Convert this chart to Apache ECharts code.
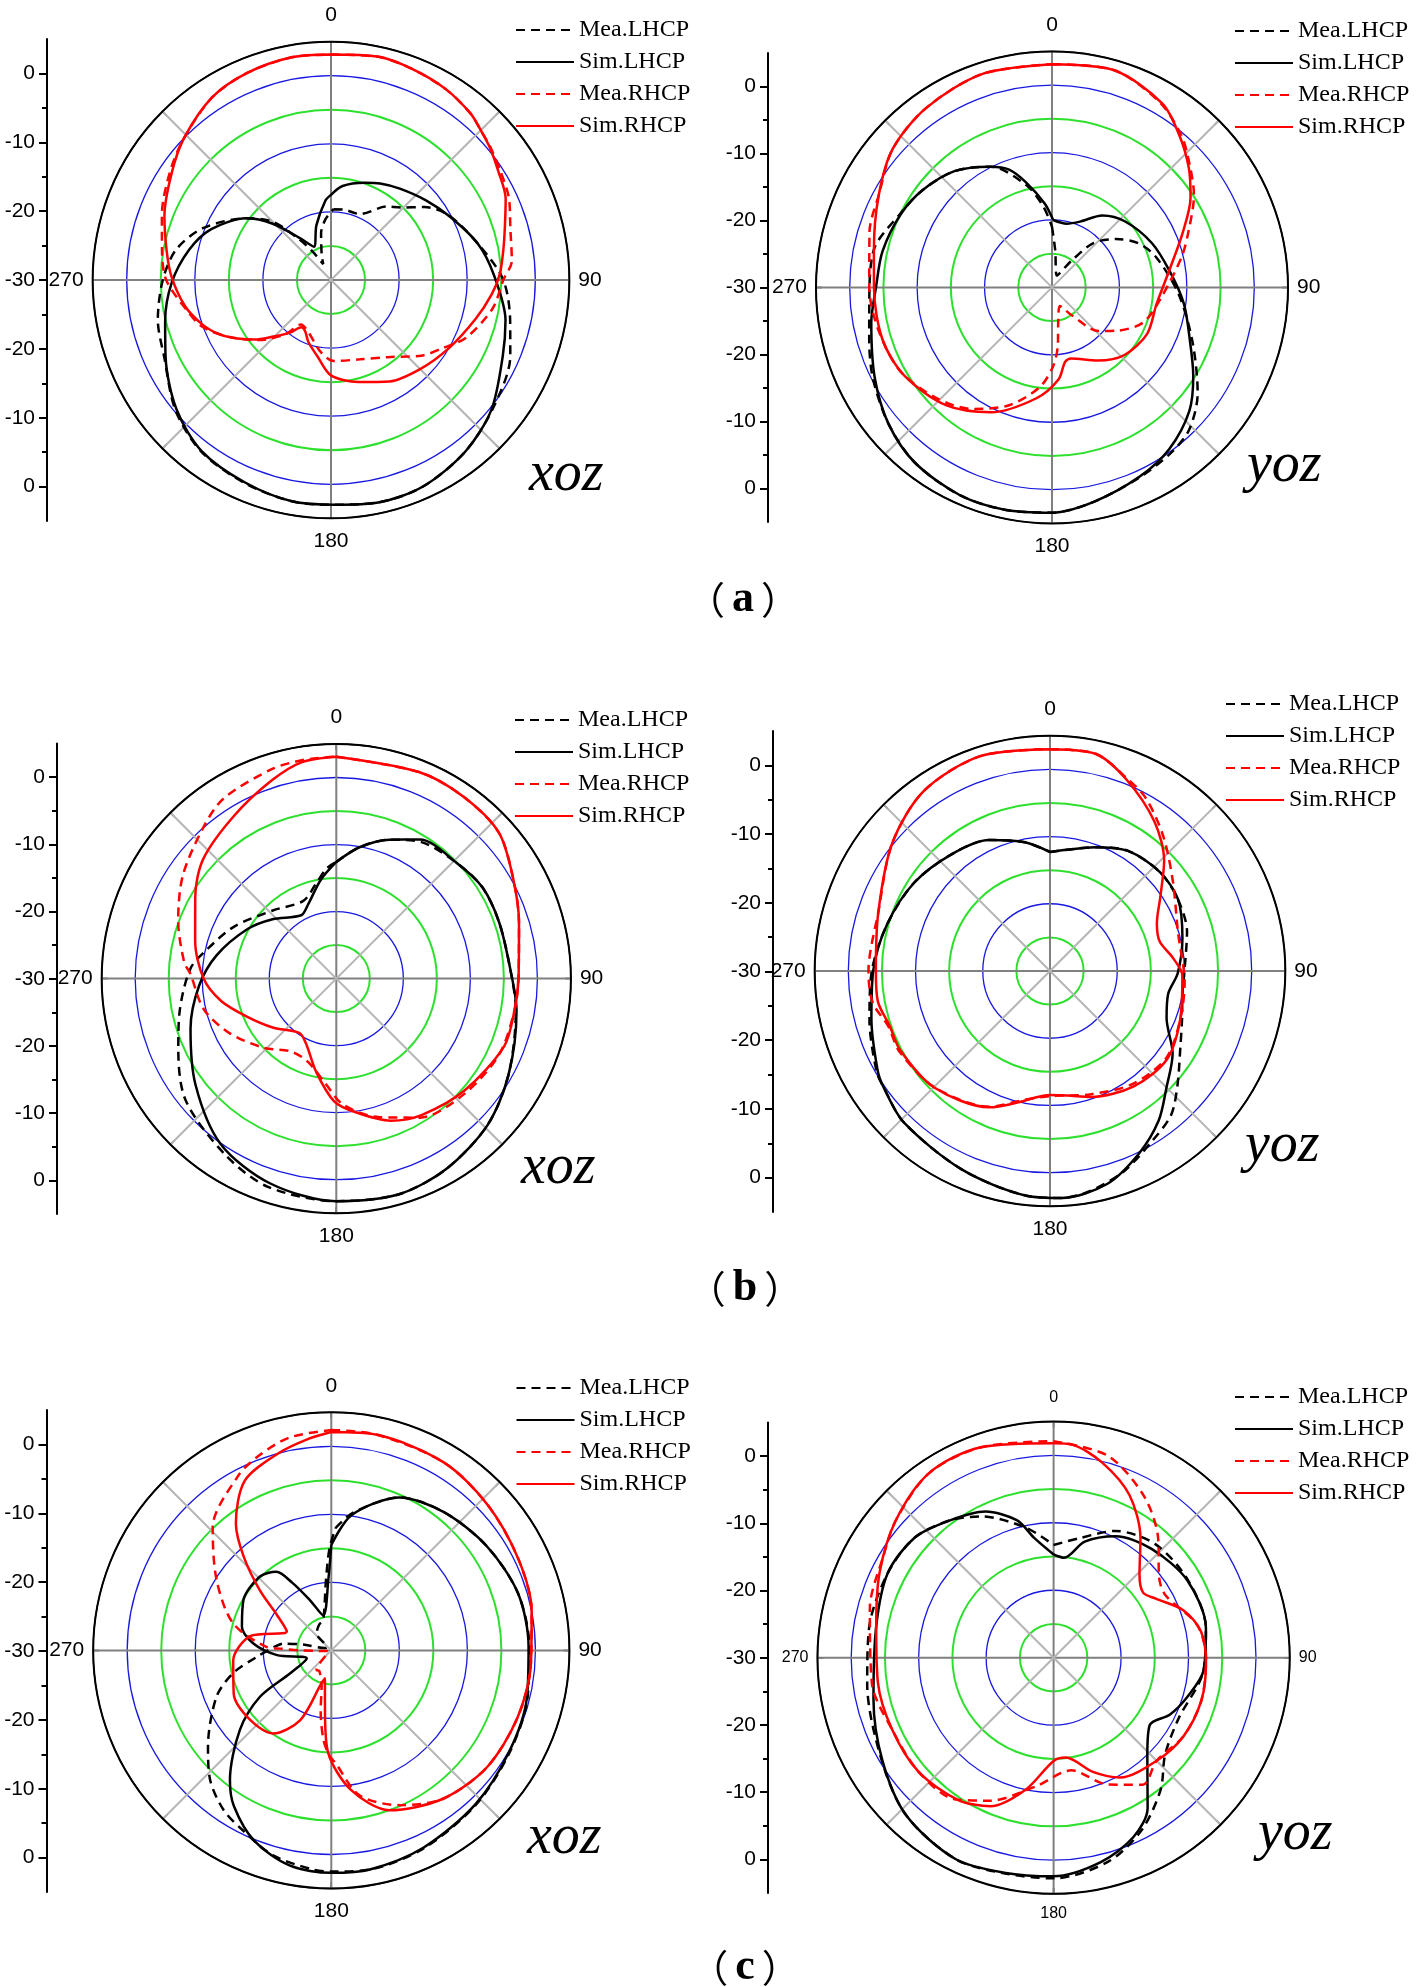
<!DOCTYPE html>
<html><head><meta charset="utf-8">
<script src="https://cdn.jsdelivr.net/npm/echarts@6/dist/echarts.min.js"></script>
<style>html,body{margin:0;padding:0;background:#fff}#c{width:1417px;height:1987px}</style>
</head><body><div id="c"></div>
<script>
// ---------- text / tick labels ----------
const seriesNames = ['Mea.LHCP', 'Sim.LHCP', 'Mea.RHCP', 'Sim.RHCP'];
const angleTickValues = [0, 90, 180, 270];
const angleTickLabels = ['0', '90', '180', '270'];
const radialTickValues = [30, 20, 10, 0, -10, -20, -30];
const radialTickLabels = ['0', '-10', '-20', '-30', '-20', '-10', '0'];
const radialMinorValues = [25, 15, 5, -5, -15, -25];
const panelTitles = ['xoz', 'yoz', 'xoz', 'yoz', 'xoz', 'yoz'];
const figureLetters = ['a', 'b', 'c'];

// ---------- data: [angle (deg), gain (dB)] ----------
const aXozMeaLHCP = [[2,-19.6],[10,-19.5],[24,-19.4],[37,-16.5],[44,-15.2],[52,-12.6],[61,-10.3],[77,-7.6],[90,-4.7],[103,-3],[113,-1.4],[128,0.3],[142,2],[156,3.2],[168,3.4],[180,3],[190,3],[203,2.4],[217,1.6],[230,-0.2],[245,-3],[257,-3.9],[270,-5.3],[281,-6.8],[292,-9.7],[306,-14.6],[315,-17.9],[322,-22.4],[327,-25],[334,-27.4],[340,-26],[348,-23],[355,-21]];
const aXozSimLHCP = [[0,-17.5],[7,-16.1],[19,-14.9],[27,-14.1],[37,-13.2],[50,-11.8],[62,-10.2],[76,-7.8],[88,-6.1],[103,-3.7],[114,-2.4],[129,0.3],[142,2],[156,3.2],[168,3.4],[179,3],[190,3],[203,2.3],[217,1.5],[230,-0.4],[245,-3.2],[256,-4.9],[269,-6.6],[282,-8.7],[293,-10.9],[306,-14.6],[314,-18.1],[323,-22.2],[333,-24.5],[345,-21.7],[356,-18.3]];
const aXozMeaRHCP = [[0,3.1],[12,3.5],[21,3.2],[31,2.7],[40,1.9],[45,1.1],[50,0.5],[57,-0.4],[65,-1.2],[74,-2.6],[84,-3.3],[90,-4.7],[100,-5.9],[113,-8.4],[121,-10.7],[130,-12.7],[144,-16],[160,-17.6],[178,-18.1],[188,-19.3],[204,-21.7],[214,-22.1],[220,-19.6],[230,-16.3],[241,-12.8],[250,-9.9],[258,-8.4],[270,-5.8],[280,-4.8],[291,-3.4],[304,-1.5],[314,0],[327,2],[338,2.8],[350,3.2]];
const aXozSimRHCP = [[0,3.1],[12,3.5],[21,3.2],[31,2.7],[40,1.9],[45,1.1],[50,0.4],[57,-0.7],[65,-1.7],[73,-3.3],[80,-4.3],[88,-5.2],[95,-6.3],[105,-8],[120,-10],[135,-11.5],[150,-12.8],[165,-14.5],[180,-16],[190,-18.6],[200,-20.3],[207,-21.6],[212,-21.8],[218,-20.2],[226,-18],[232,-15.8],[238,-13.8],[244,-11.8],[251,-10],[260,-8.2],[271,-6.6],[280,-5.5],[291,-3.8],[304,-1.8],[314,0],[327,2],[338,2.8],[350,3.2]];

const aYozMeaLHCP = [[0,-21],[5,-24.5],[22,-28.1],[36,-25.2],[43,-21],[53,-18.1],[63,-15.6],[74,-13.9],[93,-11.2],[111,-7.7],[126,-3.3],[136,-0.7],[144,0.2],[155,1],[169,2.4],[180,3.4],[192,3.7],[204,3.7],[218,3],[230,1.6],[243,-0.2],[254,-1.8],[265,-2.8],[282,-3],[296,-5],[307,-6],[320,-7.5],[333,-9.9],[346,-14.4],[354,-18]];
const aYozSimLHCP = [[1,-20],[13,-20.3],[23,-19.4],[35,-17],[48,-15.4],[66,-13.8],[82,-12.4],[97,-10.3],[111,-8.1],[122,-5.3],[132,-2.6],[144,-0.4],[155,0.9],[169,2.4],[180,3.4],[192,3.7],[204,3.7],[218,3],[230,1.6],[243,-0.5],[259,-2.7],[270,-3.9],[282,-4.3],[296,-5.1],[307,-6],[320,-7.5],[333,-9.9],[340,-11.4],[346,-13.9],[355,-17.5]];
const aYozMeaRHCP = [[0,3.1],[16,3.5],[30,1.8],[40,-0.3],[46,-2],[57,-4.9],[68,-8.2],[77,-10.3],[95,-13.7],[111,-15.5],[124,-18.5],[133,-20.5],[145,-25],[157,-27],[170,-24.7],[174,-21.6],[179,-18.4],[187,-15.1],[200,-11.4],[213,-8.5],[226,-6.3],[241,-4.3],[256,-3.5],[270,-2.9],[287,-1.7],[298,-0.9],[311,1.3],[325,2.5],[342,3.3]];
const aYozSimRHCP = [[0,3.1],[16,3.5],[31,1.8],[40,-0.6],[49,-3.1],[57,-5.5],[67,-8.9],[81,-12.3],[99,-14.3],[116,-14.3],[133,-15.3],[148,-17.2],[165,-19.1],[170,-18.8],[176,-16.3],[188,-13.4],[206,-9.4],[222,-6.5],[239,-4.5],[253,-3.7],[270,-3.6],[282,-3],[298,-0.9],[311,1.3],[325,2.5],[342,3.3]];

const bXozMeaLHCP = [[0,-12.6],[10,-10.1],[21,-7.8],[32,-6],[46,-5.1],[58,-4.3],[71,-4.3],[87,-4],[100,-2.8],[119,-0.6],[134,1.4],[150,2.8],[164,3.5],[180,3.2],[198,2.7],[212,1.1],[231,-1.1],[246,-4.2],[258,-6.1],[274,-8.2],[283,-10.3],[297,-12.9],[317,-16.1],[337,-17.4],[348,-15.5],[355,-13.5]];
const bXozSimLHCP = [[0,-12.6],[10,-10.1],[21,-7.8],[31,-5.8],[46,-5.1],[58,-4.3],[71,-4.3],[87,-4],[100,-2.7],[119,-0.6],[134,1.4],[150,2.8],[164,3.5],[180,3.2],[198,2.1],[215,0.1],[233,-3.7],[251,-7],[267,-9.5],[281,-11.8],[299,-14.8],[313,-17],[331,-19.2],[339,-18.2],[351,-15.1]];
const bXozMeaRHCP = [[0,3.1],[22,3.2],[35,3.1],[48,2.6],[60,0.4],[73,-1.5],[89,-2.8],[100,-3],[115,-3.2],[132,-4.3],[149,-5.8],[163,-8.4],[177,-11.2],[186,-14.3],[199,-16.9],[212,-17.2],[226,-15.1],[243,-12.1],[257,-9.7],[272,-8.2],[276,-7.2],[290,-4.9],[304,-2.4],[319,0.1],[328,1.7],[343,2.7],[352,3]];
const bXozSimRHCP = [[0,3.1],[22,3.2],[35,3.1],[48,2.6],[60,0.4],[73,-1.5],[89,-2.8],[100,-3],[112,-3],[131,-4.6],[148,-6],[159,-7.3],[172,-9.9],[181,-11.7],[192,-15.7],[205,-19.3],[214,-20.2],[232,-18.1],[247,-15.5],[259,-12.5],[270,-10.2],[285,-8.2],[300,-5.7],[312,-3.3],[328,-1.3],[342,1.1],[351,2.7]];

const bYozMeaLHCP = [[0,-12.3],[8,-11.8],[20,-10.4],[33,-8.7],[48,-8],[61,-8.2],[74,-8.8],[90,-10],[100,-10],[110,-9.1],[120,-7.6],[132,-4.5],[140,-2],[149,-0.5],[160,1.8],[170,3.3],[177,3.8],[186,3.6],[204,2.3],[224,1.3],[235,0.2],[240,-0.2],[255,-2.2],[270,-3.5],[286,-4.8],[303,-5.9],[320,-7.3],[335,-8.5],[349,-10.5]];
const bYozSimLHCP = [[0,-12.3],[8,-11.8],[20,-10.4],[33,-8.7],[48,-8],[61,-8.2],[76,-9.7],[91,-11],[101,-12.1],[112,-11.3],[124,-8],[135,-5.5],[144,-2.5],[154,0.2],[165,2.8],[177,3.8],[186,3.6],[204,2.3],[224,1.3],[235,0.2],[240,-0.4],[255,-2.5],[270,-3.7],[286,-4.8],[303,-5.9],[320,-7.3],[335,-8.5],[349,-10.5]];
const bYozMeaRHCP = [[0,3],[12,3],[22,0.8],[29,-0.6],[40,-3.8],[54,-7.4],[73,-10.1],[95,-9.9],[111,-9.3],[127,-8.4],[144,-9.2],[162,-10.7],[172,-11.3],[180,-11.4],[193,-10.2],[204,-7.9],[225,-5.6],[242,-4.6],[251,-4.6],[260,-3.2],[270,-3],[289,-3],[309,0.2],[325,2.7],[342,3.6]];
const bYozSimRHCP = [[0,3],[12,3],[22,0.6],[35,-2.9],[46,-6.4],[56,-10.2],[66,-12.6],[75,-13.1],[84,-11.6],[92,-10.3],[111,-9.3],[127,-8.2],[144,-8.8],[162,-10.3],[172,-11.3],[180,-11.55],[187,-11],[193,-10],[204,-7.8],[225,-5.55],[242,-4.8],[251,-4.8],[260,-4],[270,-4.1],[289,-3],[309,0.2],[325,2.7],[342,3.6]];

const cXozMeaLHCP = [[2,-12],[9,-9.5],[24,-5.4],[39,-3.8],[56,-2.5],[73,-1.3],[89,-0.9],[104,-0.3],[120,0.2],[137,1.1],[155,2.1],[170,2.7],[180,2.5],[185,2.3],[196,1.3],[206,-0.5],[214,-1.7],[223,-3.9],[232,-7],[248,-11.8],[257,-15.2],[265,-19],[273,-21.5],[278,-22.9],[282,-26],[290,-29],[305,-29.2],[319,-26.7],[335,-25.8],[345,-25.4],[355.7,-19.6],[359,-15]];
const cXozSimLHCP = [[0,-14.5],[8.5,-9.9],[24,-5.4],[39,-3.8],[56,-2.5],[73,-1.3],[89,-1],[104,-0.4],[120,0.1],[137,1],[155,2],[170,2.7],[180,2.7],[191,2.2],[202,0.2],[212,-3],[218,-5.8],[229,-12.2],[237,-17.5],[241,-23.1],[252,-26.2],[265,-22],[275,-18.5],[285,-16.4],[300,-15.1],[316,-14.9],[325,-15.9],[330,-18.5],[337,-22],[347,-24.7],[357.6,-19.6]];
const cXozMeaRHCP = [[0,2.4],[12,2.4],[31,2.2],[47,1.4],[64,0.6],[79,0],[94,-0.6],[110,-0.9],[127,-1.4],[143,-2.7],[156,-5.1],[169,-8.3],[178,-13.5],[181,-14.5],[185,-16.8],[190,-21],[195,-24.5],[210,-26.5],[217,-26.4],[235,-29.3],[260,-29.5],[268,-28],[270,-25.4],[272,-22.5],[273,-20.5],[285.5,-15],[301.6,-10.2],[316,-4.9],[332,-0.9],[340,0.6],[349,1.9]];
const cXozSimRHCP = [[0,2.1],[12,2.4],[31,2.2],[47,1.4],[64,0.6],[79,0],[94,-0.6],[110,-0.9],[127,-1.4],[143,-2.7],[160,-5],[172,-9.3],[181.7,-14.9],[185.7,-20.7],[193,-25.8],[197,-24.8],[204,-18.8],[215,-15.1],[229,-14.3],[246,-14.3],[264,-15.5],[280,-17.9],[293,-22.9],[303,-20.5],[310,-16.3],[317,-11.1],[323,-6.7],[333,-2],[345,0],[354,1.3]];

const cYozMeaLHCP = [[0,-13.3],[12,-11.9],[26,-9.1],[42,-7.4],[60,-7],[79,-7],[95,-7.7],[116,-9.4],[131,-8.1],[141,-4.8],[153,-1.3],[165,1.3],[180,2.7],[193,2.8],[206,3.2],[223,2],[239,-0.3],[262,-2.1],[279,-2.3],[297,-2.4],[311,-2.8],[323,-4.5],[333,-6.5],[348,-10.3]];
const cYozSimLHCP = [[0,-14.7],[6,-15.1],[15,-12.2],[27,-9.8],[42,-8.3],[60,-7.1],[79,-7],[95,-7.7],[106,-9.3],[116,-10.8],[125,-12.6],[136,-10],[148,-3.7],[156,-0.9],[167,1.1],[180,2.4],[193,2.7],[206,3.2],[223,2],[239,-0.4],[257,-2.6],[280,-3.3],[297,-2.4],[311,-2.8],[323,-4.5],[335,-6.1],[345,-8.9],[351,-12.1]];
const cYozMeaRHCP = [[0,2.1],[15,1],[29,-2.5],[41,-6.4],[53,-10.4],[61,-11],[77,-8.2],[90,-7.4],[106,-7.2],[121,-7.5],[135,-8.4],[145,-7],[157,-9.6],[171,-13.1],[188,-10.7],[204,-6.8],[215,-4.4],[230,-3.8],[246,-3.8],[262,-2.8],[285,-1.8],[301,-0.6],[311,1],[326,3],[341,3]];
const cYozSimRHCP = [[0,1.8],[5,1.7],[14,-0.2],[25,-3.4],[36,-8.1],[46,-12.3],[54,-13.6],[60,-12.5],[70,-9.5],[80,-7.8],[92,-7.4],[106,-7.2],[121,-7.5],[135,-8.4],[151,-9.7],[161,-12.1],[173,-15.1],[180,-14.7],[192,-10],[203,-6.1],[214,-4.6],[230,-3.8],[246,-3.8],[262,-3.7],[280,-3.3],[296,-1.3],[311,1],[326,3],[341,3]];

const panelData = [
  [aXozMeaLHCP, aXozSimLHCP, aXozMeaRHCP, aXozSimRHCP],
  [aYozMeaLHCP, aYozSimLHCP, aYozMeaRHCP, aYozSimRHCP],
  [bXozMeaLHCP, bXozSimLHCP, bXozMeaRHCP, bXozSimRHCP],
  [bYozMeaLHCP, bYozSimLHCP, bYozMeaRHCP, bYozSimRHCP],
  [cXozMeaLHCP, cXozSimLHCP, cXozMeaRHCP, cXozSimRHCP],
  [cYozMeaLHCP, cYozSimLHCP, cYozMeaRHCP, cYozSimRHCP]
];

// ---------- layout (pixels) ----------
const layout = [
  {cx:331,  cy:280,   r0:204.3, ax:47,  at:39,   ab:521,  lgL:515,  lgT:18,   tx:529,  ty:494,  af:21},
  {cx:1052, cy:287.4, r0:202.3, ax:768, at:53,   ab:522,  lgL:1234, lgT:19,   tx:1247, ty:485,  af:21},
  {cx:336.3,cy:978.6, r0:201.1, ax:57,  at:743.6,ab:1214, lgL:514,  lgT:708,  tx:521,  ty:1187, af:21},
  {cx:1050, cy:971,   r0:201.7, ax:773, at:731,  ab:1212, lgL:1225, lgT:692,  tx:1245, ty:1165, af:21},
  {cx:331.3,cy:1650.4,r0:204.1, ax:46.5,at:1410, ab:1892, lgL:515.5,lgT:1376, tx:527,  ty:1857, af:21},
  {cx:1053.6,cy:1657.7,r0:202.4,ax:768, at:1422.6,ab:1893,lgL:1234, lgT:1385, tx:1258, ty:1853, af:16}
];
const figLabelPos = [[743, 600], [745, 1289], [745, 1968]];

const styles = [
  {color:'#000000', type:[9,6]},
  {color:'#000000', type:'solid'},
  {color:'#ff0000', type:[9,6]},
  {color:'#ff0000', type:'solid'}
];
const T = 'rgba(0,0,0,0)';
const GREEN = '#2ee02e', BLUE = '#1818e0';

const polar = [], angleAxis = [], radiusAxis = [], grid = [], xAxis = [], yAxis = [], series = [], legend = [], graphic = [];

// green-ring polars (0..5)
layout.forEach((L, i) => {
  polar.push({center:[L.cx, L.cy], radius: L.r0 * 35 / 30});
  angleAxis.push({polarIndex:i, type:'value', min:0, max:360, interval:45, startAngle:90, clockwise:true,
    axisLine:{show:false}, axisTick:{show:false}, axisLabel:{show:false}, splitLine:{show:false}});
  radiusAxis.push({polarIndex:i, type:'value', min:-30, max:5, interval:5,
    axisLine:{show:false}, axisTick:{show:false}, axisLabel:{show:false},
    splitLine:{show:true, lineStyle:{color:[T, GREEN, T, GREEN, T, GREEN, T, T], width:2}}});
});
// main polars (6..11)
layout.forEach((L, i) => {
  const p = 6 + i;
  polar.push({center:[L.cx, L.cy], radius: L.r0 * 35 / 30});
  angleAxis.push({polarIndex:p, type:'value', min:0, max:360, interval:45, startAngle:90, clockwise:true,
    axisLine:{show:true, lineStyle:{color:'#000', width:2}},
    axisTick:{show:true, inside:true, length:6, lineStyle:{color:'#000', width:1.5}},
    axisLabel:{show:true, margin:9, color:'#000', fontSize:L.af, fontFamily:'Liberation Sans, Arial',
      formatter: v => {
        const k = angleTickValues.indexOf(v);
        if (k < 0) return '';
        if (v === 0) return '{t|' + angleTickLabels[k] + '}';
        if (v === 180) return '{b|' + angleTickLabels[k] + '}';
        return angleTickLabels[k];
      },
      rich:{
        t:{padding:[0,0,7,0], fontSize:L.af, fontFamily:'Liberation Sans, Arial', color:'#000'},
        b:{padding:[3,0,0,0], fontSize:L.af, fontFamily:'Liberation Sans, Arial', color:'#000'}
      }},
    splitLine:{show:true, lineStyle:{color:['#808080', '#b5b5b5'], width:2}}});
  radiusAxis.push({polarIndex:p, type:'value', min:-30, max:5, interval:5,
    axisLine:{show:false}, axisTick:{show:false}, axisLabel:{show:false},
    splitLine:{show:true, lineStyle:{color:[T, T, BLUE, T, BLUE, T, BLUE, '#000'], width:1.3}}});

  // left dB axis
  grid.push({left:L.ax, top:L.at, width:20, height:L.ab - L.at});
  xAxis.push({gridIndex:i, type:'value', show:false, min:0, max:1});
  yAxis.push({gridIndex:i, type:'value', min:-35, max:35, position:'left',
    axisLine:{show:true, lineStyle:{color:'#000', width:2}},
    axisTick:{show:true, customValues:radialTickValues, length:8, lineStyle:{color:'#000', width:2}},
    axisLabel:{show:true, customValues:radialTickValues, margin:12, color:'#000', fontSize:21,
      fontFamily:'Liberation Sans, Arial',
      formatter: v => { const k = radialTickValues.indexOf(v); return k < 0 ? '' : radialTickLabels[k]; }},
    splitLine:{show:false}});
  yAxis.push({gridIndex:i, type:'value', min:-35, max:35, position:'left',
    axisLine:{show:false},
    axisTick:{show:true, customValues:radialMinorValues, length:5, lineStyle:{color:'#000', width:2}},
    axisLabel:{show:false}, splitLine:{show:false}});

  panelData[i].forEach((arr, j) => {
    const data = arr.map(d => [d[1], d[0]]);
    data.push([arr[0][1], arr[0][0]]);
    series.push({type:'line', name:seriesNames[j], coordinateSystem:'polar', polarIndex:p,
      data, symbol:'none', showSymbol:false, smooth:0.3, silent:true, z:3,
      lineStyle:{color:styles[j].color, width:2.5, type:styles[j].type},
      itemStyle:{color:styles[j].color}});
  });

  legend.push({data:seriesNames, orient:'vertical', left:L.lgL, top:L.lgT, itemWidth:58, itemHeight:14,
    itemGap:8, selectedMode:false, padding:0,
    itemStyle:{opacity:0, color:T, borderColor:T, borderWidth:0},
    textStyle:{fontFamily:'Liberation Serif, Times New Roman', fontSize:24, color:'#000'}});

  graphic.push({type:'text', x:L.tx, y:L.ty - 19, style:{text:panelTitles[i],
    fontFamily:'Liberation Serif', fontStyle:'italic', fontWeight:'normal', fontSize:56,
    fill:'#000', textAlign:'left', textVerticalAlign:'middle'}});
});

figureLetters.forEach((ch, k) => {
  graphic.push({type:'text', x:figLabelPos[k][0], y:figLabelPos[k][1], style:{
    text:'{p|（}{l|' + ch + '}{p|）}', textAlign:'center', textVerticalAlign:'middle',
    rich:{p:{fontFamily:'Noto Sans CJK SC', fontSize:38, fill:'#000', color:'#000'},
          l:{fontFamily:'Liberation Serif', fontWeight:'bold', fontSize:44, fill:'#000', color:'#000', padding:[0,7,0,7]}}}});
});

const chart = echarts.init(document.getElementById('c'), null, {renderer:'canvas'});
chart.setOption({animation:false, backgroundColor:'#fff', polar, angleAxis, radiusAxis, grid, xAxis, yAxis, series, legend, graphic});
</script></body></html>
